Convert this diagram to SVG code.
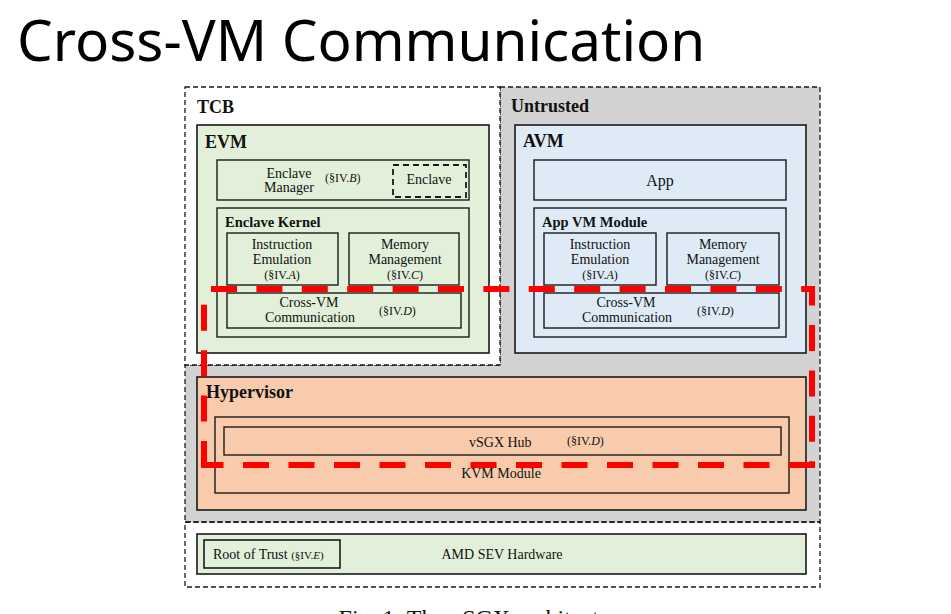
<svg xmlns="http://www.w3.org/2000/svg" width="951" height="614" viewBox="0 0 951 614">
<style>
.t{font-family:"Liberation Serif","Times New Roman",serif;fill:#111}
.b{font-weight:bold}
.s{font-size:14px}
.m{font-size:16px}
.sec{font-size:12px}
.lg{font-size:18px}
.k{font-size:14.5px}
.mid{text-anchor:middle}
.box{stroke:#1a1a1a;stroke-width:1.4}
.outer{stroke:#1a1a1a;stroke-width:1.6}
.dash{stroke:#1a1a1a;stroke-width:1.3;stroke-dasharray:5 3}
.red{fill:none;stroke:#ff0000;stroke-width:6;stroke-dasharray:26 19.4}
.g{fill:#e2f0d9}
.bl{fill:#deebf7}
.o{fill:#f8cbad}
.gray{fill:#d2d2d2}
.white{fill:#ffffff}
.none{fill:none}
</style>
<rect width="951" height="614" fill="#ffffff"/>
<text x="17" y="61" font-family="'Noto Sans','Open Sans',sans-serif" font-size="56.6" fill="#000">Cross-VM Communication</text>

<g id="untrusted">
<path d="M500,87 H820 V522 H185 V365 H500 Z" class="gray dash"/>
<text class="t b lg" x="511" y="112">Untrusted</text>
</g>
<g id="tcb">
<rect x="185" y="87" width="315" height="278" class="white dash"/>
<text class="t b lg" x="197" y="113">TCB</text>
</g>

<g id="evm">
<rect x="197" y="125" width="292" height="228" class="g outer"/>
<text class="t b lg" x="205" y="148">EVM</text>
</g>
<g id="enclave-manager">
<rect x="217" y="160" width="252" height="40" class="g box"/>
<text class="t s mid" x="289" y="178">Enclave</text>
<text class="t s mid" x="289" y="192">Manager</text>
<text class="t sec" x="325" y="182">(§IV.<tspan font-style="italic">B</tspan>)</text>
</g>
<g id="enclave">
<rect x="393" y="165" width="73" height="32" fill="none" stroke="#1a1a1a" stroke-width="1.8" stroke-dasharray="6 4"/>
<text class="t s mid" x="429" y="184">Enclave</text>
</g>
<g id="enclave-kernel">
<rect x="217" y="208" width="252" height="129" class="g box"/>
<text class="t b k" x="225" y="227">Enclave Kernel</text>
</g>
<g id="evm-instruction-emulation">
<rect x="227" y="233" width="111" height="52" class="g box"/>
<text class="t s mid" x="282" y="249">Instruction</text>
<text class="t s mid" x="282" y="264">Emulation</text>
<text class="t sec mid" x="282" y="279">(§IV.<tspan font-style="italic">A</tspan>)</text>
</g>
<g id="evm-memory-management">
<rect x="349" y="233" width="110" height="52" class="g box"/>
<text class="t s mid" x="405" y="249">Memory</text>
<text class="t s mid" x="405" y="264">Management</text>
<text class="t sec mid" x="405" y="279">(§IV.<tspan font-style="italic">C</tspan>)</text>
</g>
<g id="evm-cross-vm">
<rect x="227" y="293" width="234" height="35" class="g box"/>
<text class="t s mid" x="309" y="307">Cross-VM</text>
<text class="t s mid" x="310" y="322">Communication</text>
<text class="t sec" x="379" y="315">(§IV.<tspan font-style="italic">D</tspan>)</text>
</g>

<g id="avm">
<rect x="515" y="125" width="291" height="228" class="bl outer"/>
<text class="t b lg" x="523" y="147">AVM</text>
</g>
<g id="app">
<rect x="534" y="160" width="252" height="40" class="bl box"/>
<text class="t m mid" x="660" y="186">App</text>
</g>
<g id="app-vm-module">
<rect x="534" y="208" width="252" height="129" class="bl box"/>
<text class="t b k" x="542" y="227">App VM Module</text>
</g>
<g id="avm-instruction-emulation">
<rect x="544" y="233" width="112" height="52" class="bl box"/>
<text class="t s mid" x="600" y="249">Instruction</text>
<text class="t s mid" x="600" y="264">Emulation</text>
<text class="t sec mid" x="600" y="279">(§IV.<tspan font-style="italic">A</tspan>)</text>
</g>
<g id="avm-memory-management">
<rect x="667" y="233" width="112" height="52" class="bl box"/>
<text class="t s mid" x="723" y="249">Memory</text>
<text class="t s mid" x="723" y="264">Management</text>
<text class="t sec mid" x="723" y="279">(§IV.<tspan font-style="italic">C</tspan>)</text>
</g>
<g id="avm-cross-vm">
<rect x="544" y="293" width="235" height="35" class="bl box"/>
<text class="t s mid" x="626" y="307">Cross-VM</text>
<text class="t s mid" x="627" y="322">Communication</text>
<text class="t sec" x="697" y="315">(§IV.<tspan font-style="italic">D</tspan>)</text>
</g>

<g id="hypervisor">
<rect x="197" y="377" width="609" height="133" class="o outer"/>
<text class="t b lg" x="206" y="398">Hypervisor</text>
</g>
<g id="kvm-module">
<rect x="215" y="417" width="574" height="76" class="o box"/>
<text class="t s mid" x="501" y="478">KVM Module</text>
</g>
<g id="vsgx-hub">
<rect x="224" y="427" width="557" height="28" class="o box"/>
<text class="t s" x="469" y="447">vSGX Hub</text>
<text class="t sec" x="567" y="445">(§IV.<tspan font-style="italic">D</tspan>)</text>
</g>

<g id="hardware-domain">
<rect x="185" y="522" width="635" height="65" class="none dash"/>
</g>
<g id="amd-sev-hardware">
<rect x="197" y="534" width="609" height="40" class="g outer"/>
<text class="t s mid" x="502" y="559">AMD SEV Hardware</text>
</g>
<g id="root-of-trust">
<rect x="204" y="540" width="136" height="28" class="g outer"/>
<text class="t s" x="213" y="559">Root of Trust <tspan font-size="11">(§IV.<tspan font-style="italic">E</tspan>)</tspan></text>
</g>

<g id="connectors">
<line class="red" x1="204" y1="289" x2="815" y2="289" stroke-dashoffset="38.4"/>
<line class="red" x1="812" y1="286" x2="812" y2="465" stroke-dashoffset="6.4"/>
<line class="red" x1="815" y1="465" x2="201" y2="465" style="stroke-dasharray:26 19.5"/>
<line class="red" x1="204" y1="467" x2="204" y2="289"/>
</g>

<text class="t mid" x="484" y="626" font-size="24">Fig. 1: The vSGX architecture</text>
</svg>
